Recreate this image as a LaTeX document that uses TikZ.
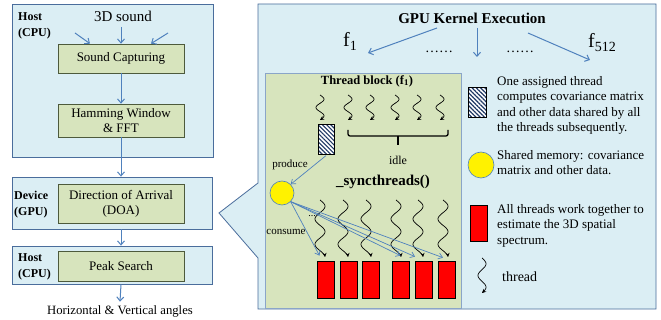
\documentclass[tikz,border=0pt]{standalone}
\usepackage{fontspec}
\setmainfont{Liberation Serif}
\usetikzlibrary{arrows.meta,patterns.meta,calc}

\definecolor{panelfill}{HTML}{DBEEF4}
\definecolor{paneledge}{HTML}{4A6D9C}
\definecolor{boxfill}{HTML}{D7E4BD}
\definecolor{boxedge}{HTML}{4D5A3C}
\definecolor{flowblue}{HTML}{4F81BD}
\definecolor{blockedge}{HTML}{8AA5C8}
\definecolor{hatchnavy}{HTML}{1F3864}

% wavy thread glyph: x, top y, height, number of periods, amplitude
\newcommand\wiggle[5]{%
  \draw[wigline] plot[domain=0:1,samples=60,smooth] ({#1+#5*sin(#4*360*\x)},{#2+#3*\x});}

\begin{document}
\begin{tikzpicture}[x=1pt,y=-1pt,
  panel/.style={draw=paneledge,fill=panelfill,line width=0.8pt,inner sep=0pt,line join=miter},
  stepbox/.style={draw=boxedge,fill=boxfill,line width=0.7pt,minimum width=126pt,inner sep=0pt,
    align=center,font=\fontsize{13}{15}\selectfont},
  tag/.style={font=\bfseries\fontsize{12}{16}\selectfont,align=left,anchor=north west,inner sep=0pt},
  flow/.style={draw=flowblue,line width=1pt,-{Straight Barb[length=4pt,width=7pt]}},
  thin flow/.style={draw=flowblue,line width=0.7pt,-{Straight Barb[length=4pt,width=6pt]}},
  wigline/.style={black,line width=0.7pt,-{Stealth[length=4pt,width=4pt]}},
  work/.style={draw=black,fill=red,line width=0.7pt,minimum width=17pt,minimum height=37pt,inner sep=0pt},
  hatchbox/.style={draw=black,line width=1pt,preaction={fill=white},
    pattern={Lines[angle=-45,distance=3pt,line width=1.2pt]},pattern color=hatchnavy,
    minimum width=16pt,minimum height=30pt,inner sep=0pt},
  shmem/.style={circle,draw=flowblue,fill=yellow,line width=0.6pt,minimum size=24pt,inner sep=0pt},
  legend/.style={font=\fontsize{13}{15.4}\selectfont,align=left,anchor=north west,inner sep=0pt},
]
\fill[white] (0,0) rectangle (661,320);
\useasboundingbox (0,0) rectangle (661,320);

% ---------- processing pipeline ----------
\node[panel,minimum width=201pt,minimum height=153pt] (hostA) at (112.5,80.5) {};
\node[panel,minimum width=200pt,minimum height=52pt] (devp) at (112,203) {};
\node[panel,minimum width=200pt,minimum height=38pt] (hostB) at (112,265) {};

\node[stepbox,minimum height=29pt] (capture) at (121,58.5) {Sound Capturing};
\node[stepbox,minimum height=33pt] (hamming) at (121,120.5) {Hamming Window\\\& FFT};
\node[stepbox,minimum height=39pt] (doa) at (121,203.5) {Direction of Arrival\\(DOA)};
\node[stepbox,minimum height=30pt] (peak) at (121,266) {Peak Search};

\node[tag] (hostAlbl) at (18,12) {Host\\(CPU)};
\node[tag] (devlbl) at (14,191) {Device\\(GPU)};
\node[tag] (hostBlbl) at (18,253) {Host\\(CPU)};

\node[font=\fontsize{15}{18}\selectfont] (sound) at (123,16) {3D sound};
\coordinate (inL) at (75,33);
\coordinate (inM) at (121,27);
\coordinate (inR) at (168,33);
\draw[flow] (inL) -- ([xshift=-31pt]capture.north);
\draw[flow] (inM) -- (capture.north);
\draw[flow] (inR) -- ([xshift=30pt]capture.north);
\draw[flow] (capture) -- (hamming);
\draw[flow] (hamming.south) -- (hamming.south |- devp.north);
\draw[flow] (doa.south |- devp.south) -- (doa.south |- hostB.north);
\node[font=\fontsize{12.7}{15}\selectfont] (angles) at (120,311) {Horizontal \& Vertical angles};
\draw[flow] (peak.south |- hostB.south) -- (angles.north);

% ---------- GPU kernel callout ----------
\draw[panel] (258,4) -- (656,4) -- (656,309) -- (258,309) -- (258,258) -- (219,213) -- (258,183) -- cycle;

\node[font=\bfseries\fontsize{15}{18}\selectfont] (kernel) at (472,18) {GPU Kernel Execution};
\node[font=\fontsize{20}{24}\selectfont,anchor=base west,inner sep=0pt] (fone) at (343,47) {f\textsubscript{1}};
\node[font=\fontsize{20}{24}\selectfont,anchor=base west,inner sep=0pt] (flast) at (588,48) {f\textsubscript{512}};
\node[font=\fontsize{14}{16}\selectfont,anchor=base] (dotsL) at (439,53) {……};
\node[font=\fontsize{14}{16}\selectfont,anchor=base] (dotsR) at (520,53) {……};
\coordinate (kL) at (437,28);
\coordinate (kM) at (477,28);
\coordinate (kR) at (528,33);
\coordinate (tL) at (368,53);
\coordinate (tM) at (477,57);
\coordinate (tR) at (590,60);
\draw[flow] (kL) -- (tL);
\draw[flow] (kM) -- (tM);
\draw[flow] (kR) -- (tR);

% ---------- thread block ----------
\node[draw=blockedge,fill=boxfill,line width=0.8pt,minimum width=196pt,minimum height=235pt,inner sep=0pt] (block) at (363,190.5) {};
\node[font=\bfseries\fontsize{12.5}{14}\selectfont] (blocktitle) at (367,81) {Thread block (f\textsubscript{1})};

\foreach \p in {320,348,370,395,417,440} {\wiggle{\p}{95}{25}{1.5}{4}}

\node[hatchbox] (assign) at (326,140) {};
\draw[line width=1.3pt,rounded corners=2pt] (348,130) -- (348,136) -- (448,136) -- (448,130);
\draw[line width=1.3pt] (398,136) -- (398,145);
\node[font=\fontsize{12}{14}\selectfont] (idle) at (398,160) {idle};

\node[font=\fontsize{11}{13}\selectfont] (produce) at (290,165) {produce};
\node[shmem] (mem) at (282,193) {};
\draw[thin flow] (assign.south) -- (mem.north east);

\node[font=\bfseries\fontsize{15}{18}\selectfont] (sync) at (383,182) {\_syncthreads()};

\foreach \p in {320,343,366,396,418,443} {\wiggle{\p}{200}{57}{2.25}{5}}

\foreach \p/\n in {325.5/1,348.5/2,371/3,400.5/4,423.5/5,446.5/6} {\node[work] (r\n) at (\p,279.5) {};}

\node[font=\fontsize{11}{13}\selectfont] (consume) at (286,232) {consume};
\node[font=\fontsize{10}{12}\selectfont] (gap) at (312,216) {...};
\draw[thin flow] (mem.south east) -- ($(r1.north)+(-6,-5)$);
\draw[thin flow] (mem.south east) -- ($(r4.north)+(0,-5)$);
\draw[thin flow] (mem.south east) -- ($(r5.north)+(-8.5,-4)$);
\draw[thin flow] (mem.south east) -- ($(r6.north)+(-3.5,-3)$);

% ---------- legend ----------
\node[hatchbox,minimum width=18pt] (lgHatch) at (477,103) {};
\node[legend] (lgHatchText) at (497,76) {One assigned thread\\computes covariance matrix\\and other data shared by all\\the threads subsequently.};
\node[shmem,minimum size=26pt] (lgMem) at (481,165) {};
\node[legend] (lgMemText) at (497,150) {Shared memory: covariance\\matrix and other data.};
\node[work,minimum height=36pt] (lgWork) at (478.5,223) {};
\node[legend] (lgWorkText) at (497,204) {All threads work together to\\estimate the 3D spatial\\spectrum.};
\wiggle{482}{258}{35}{1.5}{4}
\node[font=\fontsize{14}{16}\selectfont,anchor=west,inner sep=0pt] (lgThread) at (502,277) {thread};
\end{tikzpicture}
\end{document}
